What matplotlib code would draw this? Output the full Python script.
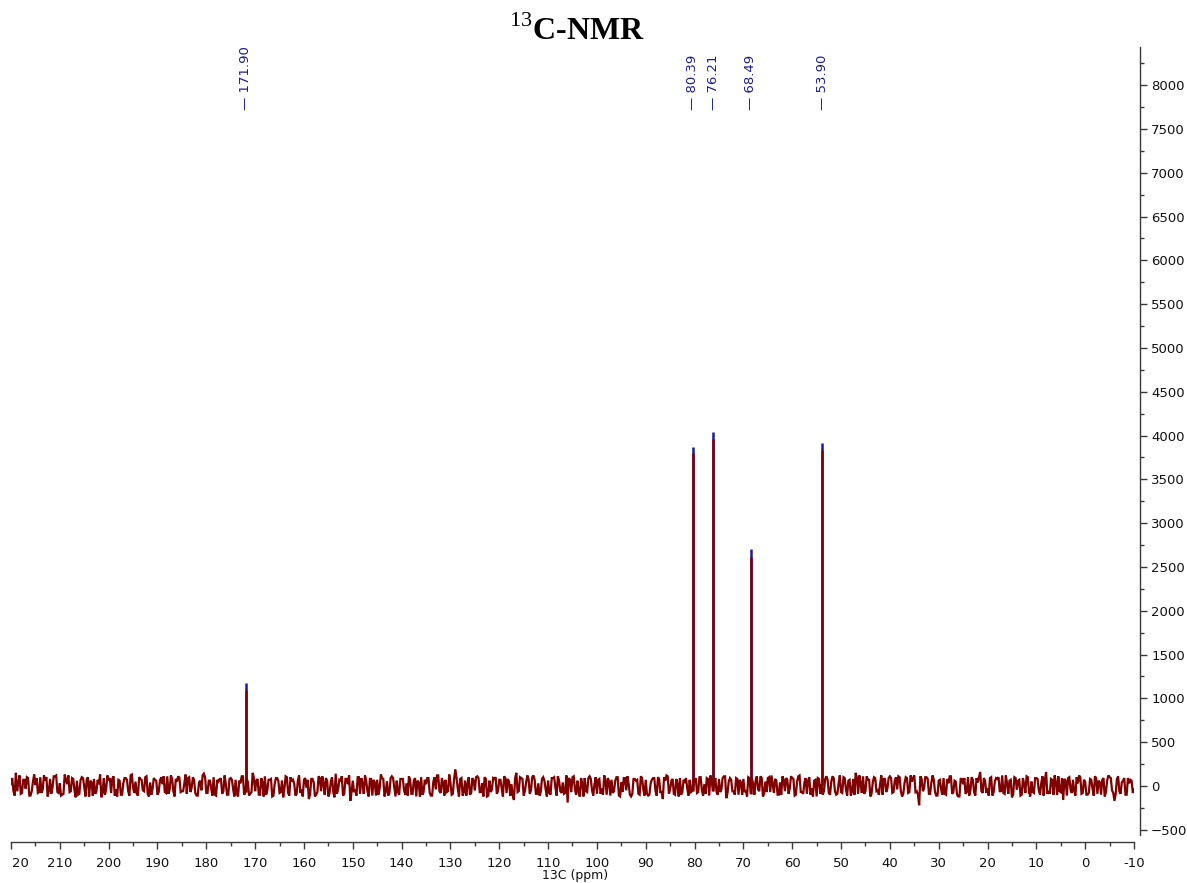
import numpy as np
import matplotlib
matplotlib.use("Agg")
import matplotlib.pyplot as plt
from matplotlib.transforms import ScaledTranslation, blended_transform_factory

# ---- spectrum data -------------------------------------------------------
# baseline samples: even points every 0.5 ppm from 220 ppm, odd points halfway
shift_start, shift_step = 220.0, -0.5

baseline = [
    20, -60, 150, 40, -90, 70, -30, 90, -110, 50, 10, -80, 100, -40, 60, -120, 80, -20, 110, -70,
    30, -100, 130, 20, -70, 90, -50, 60, -90, 100, -10, 70, -120, 40, 80, -60, 20, -130, 90, -30,
    60, -80, 110, -40, 70, -100, 30, 90, -60, 120, -20, 50, -110, 80, -50, 100, -90, 40, -30, 70,
    -100, 60, 20, -70, 110, -40, 80, -120, 50, 90, -60, 30, -90, 100, -20, 70, -110, 40, -50, 140,
    -80, 60, -30, 100, -110, 50, 80, -60, 20, -100, 90, -40, 70, -120, 30, 110, -70, 50, -90, 150,
    -60, 80, -100, 40, 110, -50, 70, -120, 20, 90, -80, 60, -30, 100, -110, 50, 30, -90, 120, -40,
    70, -20, -150, 80, 40, -100, 110, -60, 30, 90, -120, 50, -70, 140, -40, 60, -110, 80, 20, -170,
    60, -40, 100, -90, 30, 120, -60, 80, -110, 40, 70, -30, 90, -120, 50, -80, 110, -20, 60, -100,
    80, -50, 30, 110, -90, 60, -120, 40, 100, -70, 20, 90, -110, 50, -40, 120, -80, 30, 70, -60,
    40, -90, 190, -30, 80, -110, 60, 20, -100, 90, -50, 110, -70, 30, 100, -120, 60, -40, 80, -90,
    70, -30, 110, -80, 50, 20, -160, 150, -60, 90, -110, 40, 80, -50, 120, -90, 30, -70, 100, -40,
    60, -100, 90, -20, 110, -60, 40, -80, -190, 70, 100, -40, 60, -120, 30, 90, -70, 110, -50, 20,
    -90, 80, -30, 120, -100, 50, 70, -60, 100, -110, 40, 90, -50, 20, -120, 80, 60, -90, 110, -40,
    70, -110, 30, 90, -60, 100, -80, -150, 60, 110, -40, 80, -100, 20, 90, -70, 50, -30, 70, -60,
    40, -80, 100, -50, 20, 90, -110, 60, 30, -70, 80, -40, 110, -140, 50, 70, -60, 90, -100, 40,
    80, -50, 100, -90, 30, 60, -40, 110, -120, 50, 90, -70, 20, 80, -100, 40, 110, -60, 70, -30,
    90, -110, 50, 120, -70, 40, -90, 100, -30, 60, -120, 80, 20, -60, 110, -80, 50, 90, -100, 30,
    -70, 100, -40, 60, -110, 80, 150, -90, 30, 110, -60, 70, -120, 40, 90, -50, 20, -100, 80, -30,
    110, -80, 60, -40, 100, -120, 30, 90, -70, 50, 120, -60, -220, 80, -30, 100, -90, 40, 70, -110,
    60, -40, 90, -100, 30, 110, -70, 50, -120, 80, 20, -90, 100, -50, 70, -110, 40, 160, -80, 60,
    -30, 90, -110, 50, 80, -60, 120, -90, 30, 60, -130, 100, -40, 70, -100, 20, 110, -70, 50, -80,
    90, -50, 30, -110, 160, -60, 80, -100, 40, 110, -70, -160, 60, 90, -40, 70, -110, 30, 100, -80,
    50, -100, 80, -30, 110, -90, 40, 70, -120, 60, 100, -50, -170, 80, -60, 40, 90, -100, 30, 60,
    -40,
]

baseline_mid = [
    90, -110, -60, 120, -80, 70, 100, -110, -60, 130, 90, -70, -80, 120, 100, -60, -90, 110, 120, -80,
    -110, -90, 70, 120, -60, 80, -130, -100, 70, 90, -120, 100, 60, -110, -90, 70, 130, -80, -100, 120,
    90, 80, -110, -120, 60, -100, 90, 70, -110, 130, -80, -90, 100, 70, -60, 110, -120, -100, 90, 60,
    -70, 100, 110, -80, -90, 120, -60, 80, 110, -70, -60, 130, 90, -70, 100, -80, -110, 60, 120, 100,
    -80, 60, -110, -100, 70, 80, -90, 120, -100, 80, 70, -120, -90, 60, 110, -100, 80, -110, -70, 90,
    60, -100, 90, -120, -100, 70, 80, -110, 90, 60, -70, -130, 110, -80, 100, 70, -110, 60, -80, -120,
    90, 70, -100, 80, -120, -70, 90, 110, -100, 60, -80, 100, -130, -90, 70, 110, -90, 80, 120, -70,
    -70, -110, 100, 90, -90, 60, -120, 80, 70, -110, -100, 130, 80, -60, -110, 90, 90, -120, -70, 80,
    80, -100, -110, 70, -90, 90, 60, -120, -100, 70, 90, -80, -110, 100, 120, -60, 90, -110, -70, 130,
    -100, 80, 90, -120, 90, -70, -110, 100, -80, 60, 100, 90, -70, -120, 80, -110, -70, 90, 100, -60,
    70, -120, 90, 80, -110, -110, 90, -70, 100, 80, -60, 120, -90, 100, 70, -90, -110, 80, 60, -120,
    -80, 90, 100, -110, 60, -80, -90, 120, 90, -70, 110, -100, -70, 90, -120, -60, 90, 80, -110, 100,
    70, -90, -100, 60, 90, -110, -80, 60, 100, -120, -70, 90, 110, -100, -90, 80, 70, -100, 90, -110,
    -90, -100, 70, 90, -110, 80, -60, 100, 120, -90, 60, -90, 80, -120, -100, 70, 90, -110, -70, 80,
    90, -70, 100, -110, -90, 80, 120, -60, 90, -100, -70, 90, 110, -80, 90, -60, -100, 80, 70, -100,
    -70, -120, 90, 80, -100, 110, -60, 90, -90, -70, 100, 120, -80, 60, -100, -100, 70, 90, -90, 110,
    80, -100, 110, -70, -90, 90, 60, -100, -120, 70, 90, -90, -100, 80, 70, -100, 110, -60, -90, 120,
    -80, 90, -110, 70, -60, -100, 90, 120, -80, -90, 110, 70, -90, 100, -60, -100, 120, 80, -70, 90,
    90, -70, 100, 110, -60, -90, 100, -80, 120, 90, -70, -100, 110, -60, 100, 80, -90, 120, -70, -110,
    70, -100, -90, 80, 110, -90, 60, -100, -120, 80, 90, -70, -110, 100, -70, 90, 100, -60, 90, -80,
    -110, 100, -70, 90, 100, -60, -80, 120, -90, 70, -100, 90, 60, -110, 90, -80, 100, -120, -70, 90,
    80, -100, 110, 70, -90, -90, 70, 120, -100, -60, 90, 80, -110, 100, -80, -60, 100, 120, -90, 70,
    -100, -80, 70, -110, 90, 60, -100, 90, -70, 120, 90, -80, -90, 110, -90, 60, -100, 90, 70, -80,
]

# picked peaks (ppm) and their intensities
peak_ppm = [171.90, 80.39, 76.21, 68.49, 53.90]
peak_height_raw = [1175, 3870, 4040, 2705, 3915]     # blue trace
peak_height_proc = [1095, 3800, 3960, 2615, 3835]    # red trace

# axis ticks
x_ticks = [220, 210, 200, 190, 180, 170, 160, 150, 140, 130, 120, 110, 100,
           90, 80, 70, 60, 50, 40, 30, 20, 10, 0, -10]
x_tick_labels = ["20", "210", "200", "190", "180", "170", "160", "150", "140",
                 "130", "120", "110", "100", "90", "80", "70", "60", "50", "40",
                 "30", "20", "10", "0", "-10"]
y_ticks = list(range(-500, 8001, 500))

title_text = r"$^{\mathrm{13}}$C-NMR"
x_label_text = "13C (ppm)"

# ---- build traces ------------------------------------------------------------
base = np.asarray(baseline, dtype=float)
mid = np.asarray(baseline_mid, dtype=float)
n_mid = min(base.size - 1, mid.size)
base_ppm = shift_start + shift_step * np.arange(base.size)
mid_ppm = shift_start + shift_step * (np.arange(n_mid) + 0.5)

ppm = np.concatenate([base_ppm, mid_ppm])
inten = np.concatenate([base, mid[:n_mid]])
order = np.argsort(ppm)[::-1]
ppm, inten = ppm[order], inten[order]

# ---- figure ------------------------------------------------------------------
plt.rcParams["mathtext.fontset"] = "custom"
plt.rcParams["mathtext.rm"] = "Liberation Serif"
plt.rcParams["font.family"] = "DejaVu Sans"

W, H = 1187, 883
fig = plt.figure(figsize=(W / 100, H / 100), dpi=100)
ax_left, ax_right, ax_top, ax_bottom = 11, 1134, 47, 835
ax = fig.add_axes([ax_left / W, (H - ax_bottom) / H,
                   (ax_right - ax_left) / W, (ax_bottom - ax_top) / H])

red = "#800000"
blue = "#1c1c9a"
# raw peak tips (blue) under the processed trace (red)
for p, h in zip(peak_ppm, peak_height_raw):
    ax.plot([p, p], [0, h], color=blue, lw=1.8, solid_capstyle="butt")
# baseline noise
ax.plot(ppm, inten, color=red, lw=1.6, solid_joinstyle="miter")
for p, h in zip(peak_ppm, peak_height_proc):
    j = int(np.argmin(np.abs(ppm - p)))
    ax.plot([p, p], [inten[j], h], color=red, lw=1.8, solid_capstyle="butt")

ax.set_xlim(220, -10)
ax.set_ylim(-560, 8435)

spine_col = "#3a3a3a"
for s in ("top", "left"):
    ax.spines[s].set_visible(False)
ax.spines["bottom"].set_position(("outward", 5.0))
ax.spines["right"].set_position(("outward", 4.3))
for s in ("bottom", "right"):
    ax.spines[s].set_color(spine_col)
    ax.spines[s].set_linewidth(1.0)

ax.yaxis.tick_right()
ax.set_yticks(y_ticks)
ax.set_yticks(np.arange(-500, 8401, 250), minor=True)
ax.set_xticks(x_ticks)
ax.set_xticklabels(x_tick_labels)
ax.set_xticks(np.arange(215, -10, -5), minor=True)
ax.tick_params(axis="both", which="major", direction="out", length=5,
               width=1.0, color=spine_col, labelsize=9.5, labelcolor="#111111")
ax.tick_params(axis="both", which="minor", direction="out", length=3,
               width=1.0, color=spine_col)
ax.tick_params(axis="x", pad=6)
ax.tick_params(axis="y", pad=3)

# first x label sits just inside the left edge
first = ax.get_xticklabels()[0]
first.set_transform(first.get_transform() +
                    ScaledTranslation(7 / 72, 0, fig.dpi_scale_trans))

# peak labels
lab_tr = blended_transform_factory(ax.transData, ax.transAxes)
for p in peak_ppm:
    ax.text(p, 0.92, "\u2014 %.2f" % p, rotation=90, ha="center", va="bottom",
            transform=lab_tr, color="#1c1c96", fontsize=9.5)

fig.text(0.486, 1 - 40 / H, title_text, ha="center", va="baseline",
         fontsize=23, fontweight="bold", family="Liberation Serif")
fig.text(575 / W, 1 - 876 / H, x_label_text, ha="center", va="center",
         fontsize=9, color="#111111")

fig.savefig("out.png", dpi=100)
